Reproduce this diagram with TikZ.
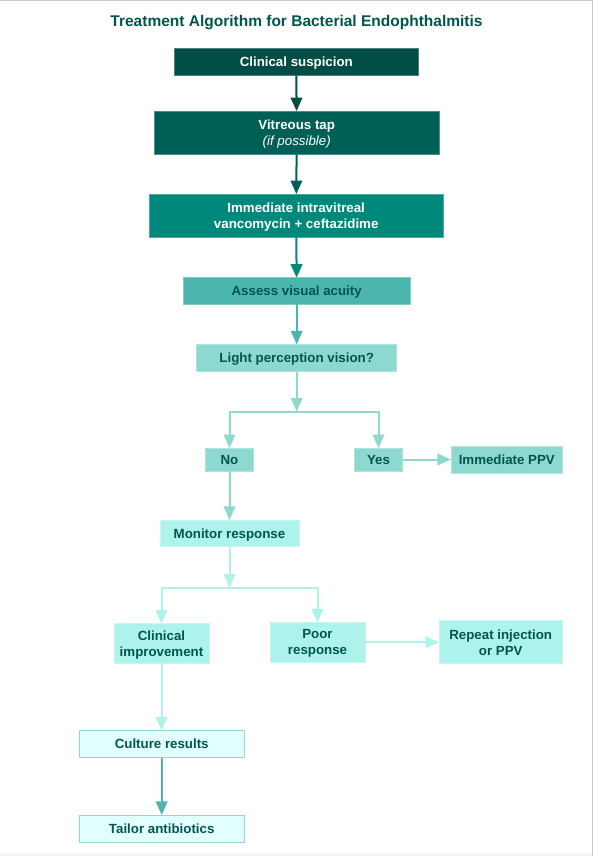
\documentclass[tikz,border=0pt]{standalone}
\usepackage{fontspec}
\setmainfont{Liberation Sans}
\usetikzlibrary{arrows.meta,positioning,calc}
\definecolor{tealA}{HTML}{004D45}
\definecolor{tealB}{HTML}{005F56}
\definecolor{tealC}{HTML}{00897B}
\definecolor{tealD}{HTML}{4DB6AC}
\definecolor{tealE}{HTML}{8DD9D2}
\definecolor{tealF}{HTML}{AEF3EB}
\definecolor{tealG}{HTML}{E0FFFD}
\definecolor{inkT}{HTML}{00564F}
\definecolor{frameG}{HTML}{CACACA}
\definecolor{stripL}{HTML}{F4F4F8}

\begin{document}
\begin{tikzpicture}[x=1pt,y=-1pt,
  box/.style={draw=#1!70!white, fill=#1, line width=0.8pt, inner sep=0pt, outer sep=0pt,
              align=center, text depth=0pt, font=\fontsize{13.3}{16}\selectfont\bfseries, text=inkT},
  flow/.style={draw=#1, line width=2pt, -{Triangle[length=13.5pt,width=11.5pt]}},
  link/.style={draw=#1, line width=2pt}]
  % page frame
  \useasboundingbox (0,0) rectangle (593,856);
  \fill[white] (0,0) rectangle (593,856);
  \fill[stripL] (0,853) rectangle (592,856);
  \draw[frameG, line width=1pt] (0,0.5) -- (593,0.5);
  \draw[frameG, line width=1pt] (592,0) -- (592,856);

  % title
  \node[font=\fontsize{15.5}{18}\selectfont\bfseries, text=inkT, text depth=0pt] (title) at (296.5,20.7)
    {Treatment Algorithm for Bacterial Endophthalmitis};

  % main column
  \node[box=tealA, text=white, minimum width=244.7pt, minimum height=27pt] (susp) at (296.3,61.8) {Clinical suspicion};
  \node[box=tealB, text=white, minimum width=285.3pt, minimum height=43.3pt] (tap) at (296.7,132.7)
    {Vitreous tap\\{\mdseries\itshape (if possible)}};
  \node[box=tealC, text=white, minimum width=293.7pt, minimum height=43.3pt] (inject) at (296.2,215.7)
    {Immediate intravitreal\\vancomycin + ceftazidime};
  \node[box=tealD, minimum width=226.7pt, minimum height=26.7pt] (acuity) at (296.7,291) {Assess visual acuity};
  \node[box=tealE, minimum width=200pt, minimum height=27.3pt] (light) at (296.7,358) {Light perception vision?};

  % first decision
  \node[box=tealE, minimum width=48.3pt, minimum height=23pt] (no) at (229.5,459.5) {No};
  \node[box=tealE, minimum width=48.3pt, minimum height=23pt] (yes) at (378.5,459.5) {Yes};
  \node[box=tealE, minimum width=111.7pt, minimum height=26.7pt] (ppv) at (506.8,459.7) {Immediate PPV};

  % second decision
  \node[box=tealF, minimum width=139pt, minimum height=26.7pt] (monitor) at (229.5,533.3) {Monitor response};
  \node[box=tealF, minimum width=95pt, minimum height=39.7pt] (better) at (161.5,643.5) {Clinical\\improvement};
  \node[box=tealF, minimum width=95pt, minimum height=39.7pt] (poor) at (317.5,642.2) {Poor\\response};
  \node[box=tealF, minimum width=123.3pt, minimum height=43pt] (repeat) at (500.7,642.2) {Repeat injection\\or PPV};

  % final steps
  \node[box=tealG, draw=tealE, minimum width=165.3pt, minimum height=27.3pt] (culture) at (161.7,744) {Culture results};
  \node[box=tealG, draw=tealE, minimum width=165.3pt, minimum height=27.7pt] (tailor) at (161.7,828.8) {Tailor antibiotics};

  \coordinate (split1) at (light.south |- 0,411.5);
  \coordinate (split2) at (monitor.south |- 0,587.5);

  \draw[flow=tealA] (susp) -- (tap);
  \draw[flow=tealB] (tap) -- (inject);
  \draw[flow=tealC] (inject) -- (acuity);
  \draw[flow=tealD] (acuity) -- (light);
  \draw[flow=tealE] (light) -- (split1);
  \draw[flow=tealE] (split1) -| (no);
  \draw[flow=tealE] (split1) -| (yes);
  \draw[flow=tealE] (yes.east) -- (yes.east -| ppv.west);
  \draw[flow=tealE] (no) -- (no.south |- monitor.north);
  \draw[flow=tealF] (monitor) -- (split2);
  \draw[flow=tealF] (split2) -| (better);
  \draw[flow=tealF] (split2) -| (poor);
  \draw[flow=tealF] (poor.east) -- (poor.east -| repeat.west);
  \draw[flow=tealF] (better) -- (better.south |- culture.north);
  \draw[flow=tealD] (culture) -- (tailor);
\end{tikzpicture}
\end{document}
